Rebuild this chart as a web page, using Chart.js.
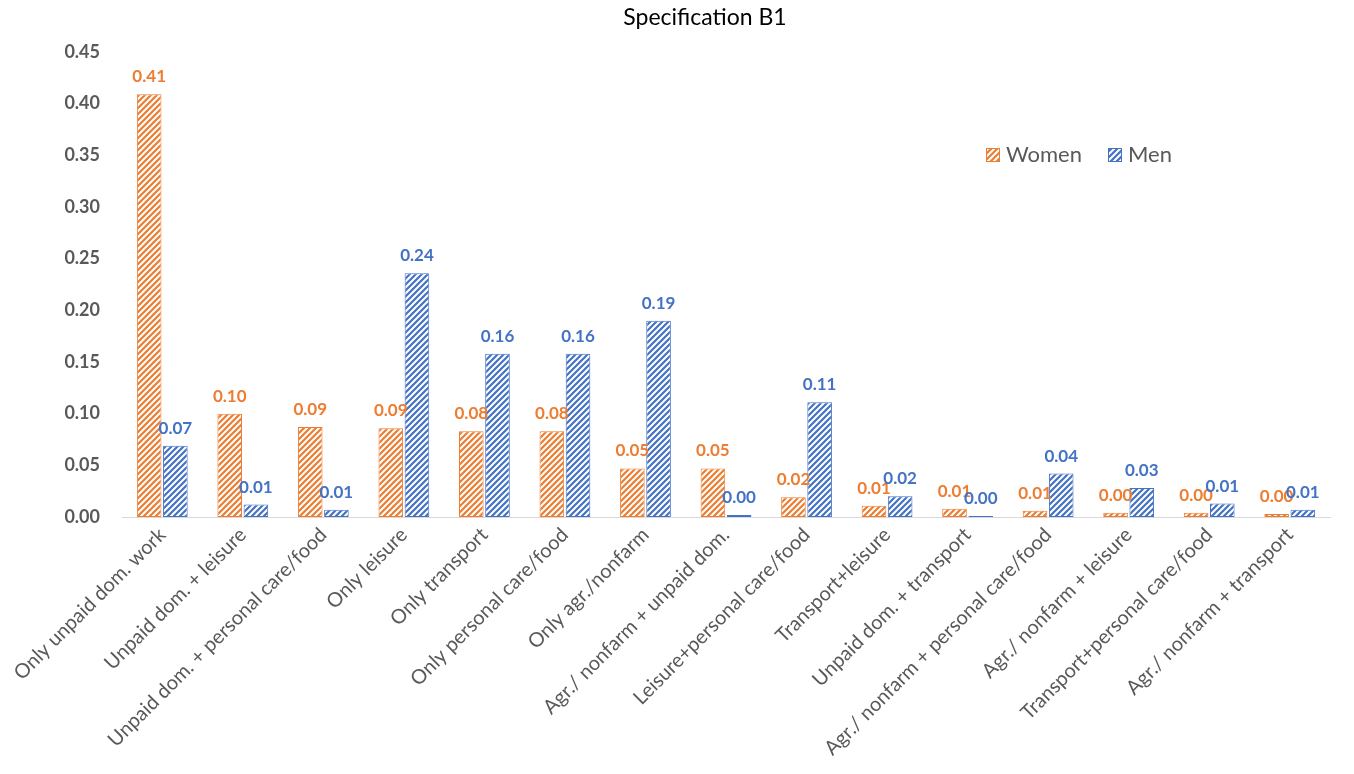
<!DOCTYPE html>
<html>
<head>
<meta charset="utf-8">
<title>Specification B1</title>
<script src="https://cdn.jsdelivr.net/npm/chart.js@4"></script>
<style>
  html, body { margin: 0; padding: 0; background: #fff; }
  canvas { display: block; }
</style>
</head>
<body>
<canvas id="chart" width="1354" height="774"></canvas>
<script>
const categories = [
  'Only unpaid dom. work',
  'Unpaid dom. + leisure',
  'Unpaid dom. + personal care/food',
  'Only leisure',
  'Only transport',
  'Only personal care/food',
  'Only agr./nonfarm',
  'Agr./ nonfarm + unpaid dom.',
  'Leisure+personal care/food',
  'Transport+leisure',
  'Unpaid dom. + transport',
  'Agr./ nonfarm + personal care/food',
  'Agr./ nonfarm + leisure',
  'Transport+personal care/food',
  'Agr./ nonfarm + transport'
];
const women = [0.409, 0.100, 0.087, 0.086, 0.083, 0.083, 0.047, 0.047, 0.019, 0.011, 0.008, 0.006, 0.004, 0.004, 0.003];
const men   = [0.069, 0.012, 0.007, 0.236, 0.158, 0.158, 0.190, 0.002, 0.111, 0.020, 0.001, 0.042, 0.028, 0.013, 0.007];
const yTicks = [0, 0.05, 0.10, 0.15, 0.20, 0.25, 0.30, 0.35, 0.40, 0.45];
const chartTitle = 'Specification B1';

const ORANGE = '#ED7D31';
const BLUE = '#4472C4';
const FONT = 'Lato, "Noto Sans", sans-serif';

// diagonal "/" hatch, white ground
function hatch(color) {
  const c = document.createElement('canvas');
  c.width = 6; c.height = 6;
  const g = c.getContext('2d');
  g.fillStyle = '#fff';
  g.fillRect(0, 0, 6, 6);
  g.strokeStyle = color;
  g.lineWidth = 2.2;
  g.beginPath();
  g.moveTo(-1, 7); g.lineTo(7, -1);
  g.moveTo(-4, 4); g.lineTo(4, -4);
  g.moveTo(2, 10); g.lineTo(10, 2);
  g.stroke();
  return g.createPattern(c, 'repeat');
}

const valueLabels = {
  id: 'valueLabels',
  afterDatasetsDraw(chart) {
    const ctx = chart.ctx;
    ctx.save();
    ctx.font = 'bold 17px ' + FONT;
    ctx.textAlign = 'center';
    ctx.textBaseline = 'bottom';
    chart.data.datasets.forEach((ds, i) => {
      const meta = chart.getDatasetMeta(i);
      ctx.fillStyle = ds.borderColor;
      meta.data.forEach((bar, j) => {
        ctx.fillText(ds.data[j].toFixed(2), bar.x, bar.y - 9);
      });
    });
    ctx.restore();
  }
};

// title sits a little right of the canvas centre, legend floats inside the plot
const headerAndLegend = {
  id: 'headerAndLegend',
  afterDraw(chart) {
    const ctx = chart.ctx;
    ctx.save();
    ctx.font = '23px ' + FONT;
    ctx.fillStyle = '#000';
    ctx.textAlign = 'center';
    ctx.textBaseline = 'middle';
    ctx.fillText(chartTitle, 705, 18);

    const items = [
      { text: 'Women', ds: chart.data.datasets[0], x: 986 },
      { text: 'Men', ds: chart.data.datasets[1], x: 1108 }
    ];
    const y = 155;
    ctx.font = '22px ' + FONT;
    ctx.textAlign = 'left';
    items.forEach(it => {
      ctx.fillStyle = it.ds.backgroundColor;
      ctx.fillRect(it.x, y - 7, 14, 14);
      ctx.strokeStyle = it.ds.borderColor;
      ctx.lineWidth = 1;
      ctx.strokeRect(it.x + 0.5, y - 6.5, 13, 13);
      ctx.fillStyle = '#595959';
      ctx.fillText(it.text, it.x + 20, y);
    });
    ctx.restore();
  }
};

new Chart(document.getElementById('chart'), {
  type: 'bar',
  data: {
    labels: categories,
    datasets: [
      {
        label: 'Women',
        data: women,
        backgroundColor: hatch(ORANGE),
        borderColor: ORANGE,
        borderWidth: 1,
        borderSkipped: false
      },
      {
        label: 'Men',
        data: men,
        backgroundColor: hatch(BLUE),
        borderColor: BLUE,
        borderWidth: 1,
        borderSkipped: false
      }
    ]
  },
  options: {
    responsive: false,
    animation: false,
    layout: { padding: { left: 0, right: 24, top: 52, bottom: 0 } },
    datasets: {
      bar: { categoryPercentage: 0.65, barPercentage: 0.94 }
    },
    scales: {
      x: {
        grid: { display: false, drawTicks: false },
        border: { display: true, color: '#D9D9D9', width: 1 },
        ticks: {
          color: '#595959',
          font: { family: FONT, size: 20 },
          maxRotation: 45,
          minRotation: 45,
          autoSkip: false,
          padding: 6
        },
        afterFit(scale) { scale.height = 257; }
      },
      y: {
        min: 0,
        max: 0.45,
        afterBuildTicks(scale) { scale.ticks = yTicks.map(v => ({ value: v })); },
        grid: { display: false, drawTicks: false },
        border: { display: false },
        ticks: {
          color: '#595959',
          font: { family: FONT, size: 18, weight: 'bold' },
          padding: 22,
          callback: v => v.toFixed(2)
        },
        afterFit(scale) { scale.width = 122; }
      }
    },
    plugins: {
      legend: { display: false },
      tooltip: { enabled: false },
      title: { display: false }
    }
  },
  plugins: [valueLabels, headerAndLegend]
});
</script>
</body>
</html>
